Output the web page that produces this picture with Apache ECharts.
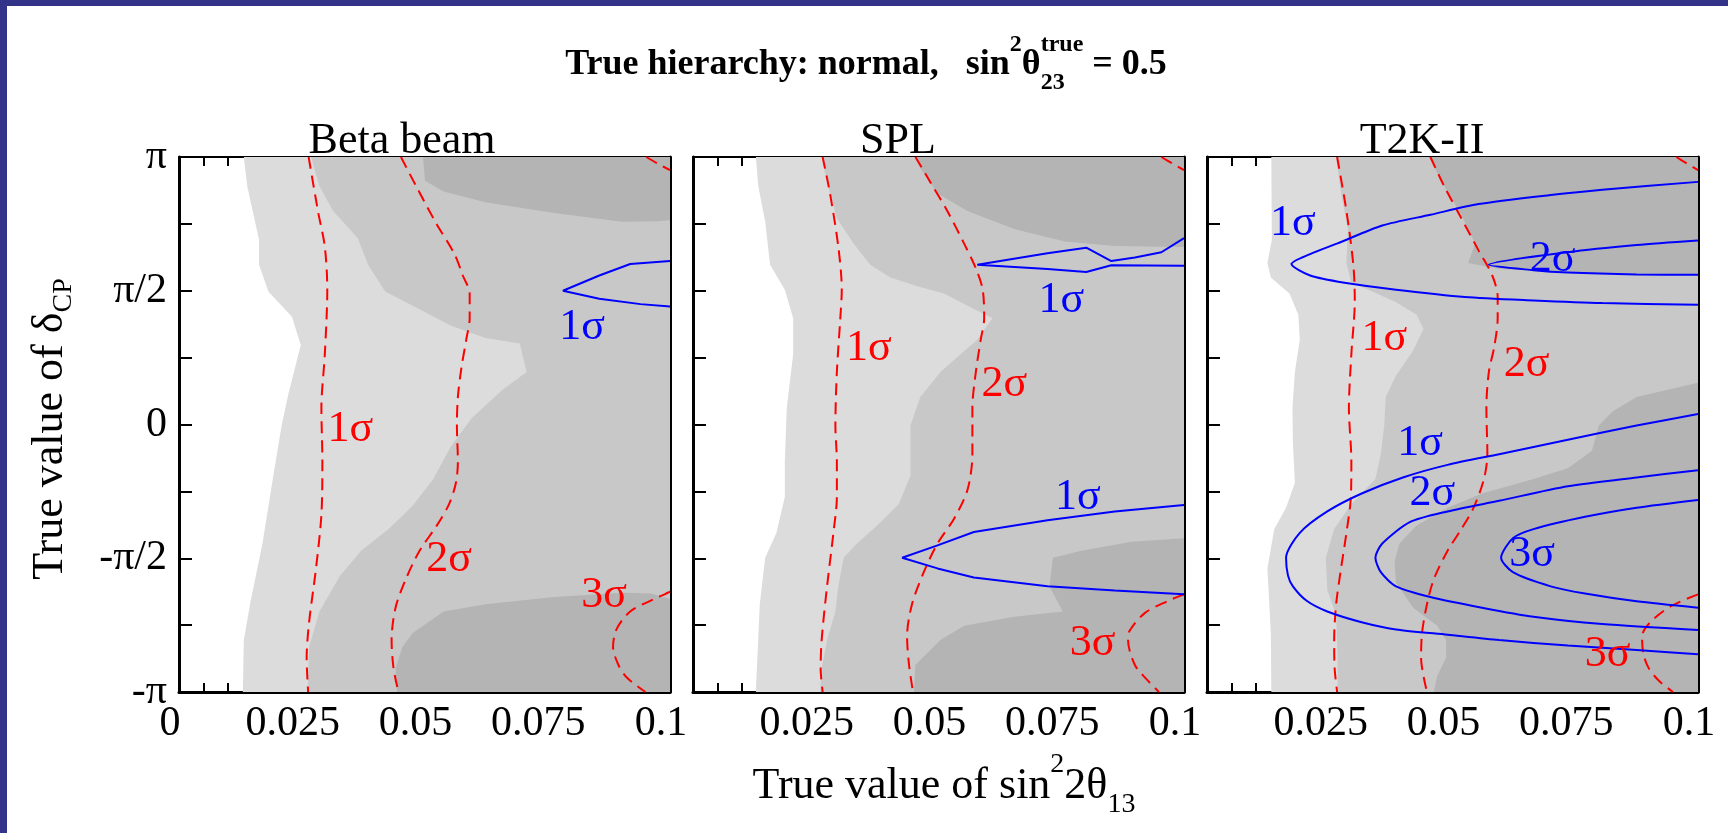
<!DOCTYPE html>
<html><head><meta charset="utf-8">
<script src="https://cdn.jsdelivr.net/npm/echarts@6/dist/echarts.min.js"></script>
<style>html,body{margin:0;padding:0;background:#fff}#c{width:1728px;height:833px}</style>
</head><body><div id="c"></div>
<script>
// ---------- DATA (x: sin^2 2θ13, y: δCP in units of π) ----------
const xTickLabels = ['0','0.025','0.05','0.075','0.1'];
const yTickLabels = ['-π','-π/2','0','π/2','π'];
const panelTitles = ['Beta beam','SPL','T2K-II'];

// Beta beam
const beta_white = [[0.0132,1],[0.0139,0.891],[0.0163,0.691],[0.0163,0.597],[0.0182,0.497],[0.0230,0.403],[0.0248,0.297],[0.0223,0.116],[0.0209,-0.004],[0.0191,-0.204],[0.0170,-0.445],[0.0146,-0.659],[0.0132,-0.806],[0.0130,-1]];
const beta_mid = [[0.0269,1],[0.0286,0.891],[0.0314,0.798],[0.0364,0.697],[0.0385,0.597],[0.0420,0.497],[0.0483,0.437],[0.0553,0.370],[0.0624,0.323],[0.0694,0.303],[0.0708,0.196],[0.0659,0.130],[0.0596,0.023],[0.0553,-0.084],[0.0518,-0.204],[0.0476,-0.304],[0.0427,-0.391],[0.0371,-0.472],[0.0328,-0.565],[0.0286,-0.699],[0.0265,-0.832],[0.0262,-1]];
const beta_darkTop = [[0.0497,1],[0.0501,0.911],[0.0539,0.871],[0.0624,0.831],[0.0764,0.791],[0.0902,0.758],[0.0975,0.760],[0.1,0.764],[0.1,1]];
const beta_darkBot = [[0.0444,-1],[0.0441,-0.912],[0.0455,-0.832],[0.0476,-0.779],[0.0539,-0.699],[0.0624,-0.672],[0.0764,-0.645],[0.0905,-0.629],[0.0961,-0.632],[0.1,-0.652],[0.1,-1]];
const beta_red1 = [[0.0264,1],[0.0283,0.798],[0.0297,0.664],[0.0302,0.504],[0.0297,0.263],[0.0290,0.063],[0.0292,-0.138],[0.0290,-0.338],[0.0279,-0.538],[0.0265,-0.739],[0.0260,-0.872],[0.0263,-1]];
const beta_red2 = [[0.0452,1],[0.0483,0.891],[0.0522,0.758],[0.0561,0.637],[0.0578,0.557],[0.0592,0.490],[0.0592,0.397],[0.0585,0.317],[0.0575,0.210],[0.0568,0.103],[0.0566,-0.004],[0.0568,-0.138],[0.0564,-0.218],[0.0550,-0.298],[0.0525,-0.378],[0.0490,-0.472],[0.0462,-0.578],[0.0441,-0.685],[0.0433,-0.806],[0.0437,-0.912],[0.0447,-1]];
const beta_red3 = [[0.1,-0.625],[0.0989,-0.635],[0.0968,-0.652],[0.0919,-0.699],[0.0891,-0.766],[0.0884,-0.832],[0.0895,-0.899],[0.0912,-0.946],[0.0950,-1]];
const beta_red3top = [[0.0952,1],[0.0975,0.975],[0.1,0.951]];
const beta_blue1 = [[0.1,0.611],[0.0919,0.600],[0.0856,0.557],[0.0782,0.500],[0.0856,0.470],[0.0940,0.450],[0.1,0.441]];
const beta_redLabels = [[0.0349,-0.017,'1σ'],[0.0550,-0.505,'2σ'],[0.0866,-0.639,'3σ']];
const beta_blueLabels = [[0.0821,0.363,'1σ']];

// SPL
const spl_white = [[0.0128,1],[0.0133,0.891],[0.0147,0.758],[0.0157,0.597],[0.0187,0.504],[0.0204,0.397],[0.0204,0.263],[0.0191,0.063],[0.0187,-0.138],[0.0187,-0.271],[0.0170,-0.405],[0.0147,-0.498],[0.0136,-0.672],[0.0128,-1]];
const spl_mid = [[0.0262,1],[0.0273,0.904],[0.0293,0.771],[0.0327,0.677],[0.0361,0.597],[0.0402,0.550],[0.0457,0.517],[0.0511,0.490],[0.0559,0.444],[0.0610,0.397],[0.0579,0.317],[0.0545,0.263],[0.0504,0.196],[0.0463,0.103],[0.0443,-0.004],[0.0443,-0.191],[0.0419,-0.298],[0.0375,-0.378],[0.0334,-0.445],[0.0307,-0.498],[0.0296,-0.605],[0.0290,-0.699],[0.0273,-0.806],[0.0262,-0.912],[0.0259,-1]];
const spl_darkTop = [[0.0453,1],[0.0463,0.958],[0.0498,0.864],[0.0559,0.798],[0.0654,0.731],[0.0757,0.684],[0.0859,0.667],[0.1,0.664],[0.1,1]];
const spl_darkBot = [[0.0450,-1],[0.0453,-0.899],[0.0504,-0.806],[0.0552,-0.752],[0.0654,-0.719],[0.0753,-0.699],[0.0726,-0.605],[0.0733,-0.498],[0.0791,-0.472],[0.0893,-0.438],[0.1,-0.425],[0.1,-1]];
const spl_red1 = [[0.0264,1],[0.0279,0.864],[0.0296,0.664],[0.0303,0.504],[0.0300,0.397],[0.0293,0.196],[0.0290,-0.004],[0.0293,-0.138],[0.0293,-0.271],[0.0286,-0.405],[0.0273,-0.605],[0.0262,-0.806],[0.0260,-0.912],[0.0264,-1]];
const spl_red2 = [[0.0453,1],[0.0484,0.904],[0.0518,0.798],[0.0552,0.677],[0.0576,0.584],[0.0590,0.504],[0.0593,0.397],[0.0586,0.317],[0.0576,0.196],[0.0569,0.063],[0.0569,-0.111],[0.0559,-0.245],[0.0532,-0.351],[0.0498,-0.445],[0.0470,-0.552],[0.0446,-0.672],[0.0436,-0.792],[0.0440,-0.899],[0.0448,-1]];
const spl_red3 = [[0.1,-0.635],[0.0968,-0.659],[0.0920,-0.705],[0.0889,-0.772],[0.0886,-0.806],[0.0900,-0.899],[0.0924,-0.953],[0.0949,-1]];
const spl_red3top = [[0.0954,1],[0.0977,0.975],[0.1,0.951]];
const spl_blue1a = [[0.1,0.697],[0.0954,0.644],[0.0900,0.624],[0.0852,0.611],[0.0801,0.661],[0.0722,0.640],[0.0579,0.597],[0.0722,0.581],[0.0801,0.570],[0.0852,0.595],[0.1,0.593]];
const spl_blue1b = [[0.1,-0.301],[0.0859,-0.325],[0.0722,-0.358],[0.0572,-0.402],[0.0498,-0.452],[0.0426,-0.498],[0.0498,-0.538],[0.0572,-0.572],[0.0722,-0.605],[0.0859,-0.621],[0.1,-0.635]];
const spl_redLabels = [[0.0358,0.283,'1σ'],[0.0634,0.150,'2σ'],[0.0814,-0.819,'3σ']];
const spl_blueLabels = [[0.0750,0.464,'1σ'],[0.0784,-0.271,'1σ']];

// T2K-II
const t2k_white = [[0.0131,1],[0.0132,0.691],[0.0123,0.604],[0.0130,0.550],[0.0168,0.490],[0.0186,0.410],[0.0189,0.317],[0.0179,0.196],[0.0174,0.063],[0.0175,-0.071],[0.0179,-0.218],[0.0161,-0.311],[0.0137,-0.391],[0.0123,-0.538],[0.0130,-0.779],[0.0131,-1]];
const t2k_mid = [[0.0263,1],[0.0273,0.864],[0.0287,0.731],[0.0284,0.604],[0.0294,0.530],[0.0329,0.504],[0.0385,0.457],[0.0427,0.410],[0.0441,0.357],[0.0420,0.277],[0.0385,0.183],[0.0364,0.103],[0.0361,-0.004],[0.0354,-0.111],[0.0343,-0.204],[0.0294,-0.298],[0.0259,-0.391],[0.0242,-0.498],[0.0245,-0.619],[0.0263,-0.712],[0.0266,-0.872],[0.0266,-1]];
const t2k_darkTop = [[0.0452,1],[0.0483,0.891],[0.0518,0.784],[0.0546,0.677],[0.0532,0.604],[0.0595,0.581],[0.0735,0.568],[0.0875,0.562],[0.1,0.560],[0.1,1]];
const t2k_darkBot = [[0.1,0.156],[0.0875,0.103],[0.0826,0.049],[0.0798,-0.004],[0.0784,-0.098],[0.0735,-0.164],[0.0665,-0.204],[0.0560,-0.258],[0.0490,-0.311],[0.0427,-0.378],[0.0392,-0.445],[0.0382,-0.512],[0.0385,-0.592],[0.0420,-0.685],[0.0469,-0.752],[0.0487,-0.806],[0.0487,-0.872],[0.0469,-0.939],[0.0462,-1],[0.1,-1]];
const t2k_red1 = [[0.0265,1],[0.0284,0.798],[0.0298,0.597],[0.0301,0.464],[0.0294,0.263],[0.0289,0.063],[0.0294,-0.138],[0.0293,-0.271],[0.0284,-0.405],[0.0273,-0.538],[0.0263,-0.672],[0.0259,-0.806],[0.0260,-0.912],[0.0265,-1]];
const t2k_red2 = [[0.0455,1],[0.0483,0.891],[0.0518,0.771],[0.0553,0.651],[0.0581,0.557],[0.0592,0.477],[0.0592,0.397],[0.0585,0.290],[0.0574,0.196],[0.0569,0.063],[0.0571,-0.111],[0.0564,-0.204],[0.0543,-0.311],[0.0518,-0.391],[0.0490,-0.472],[0.0462,-0.578],[0.0448,-0.672],[0.0438,-0.779],[0.0436,-0.872],[0.0448,-1]];
const t2k_red3 = [[0.1,-0.635],[0.0945,-0.679],[0.0903,-0.739],[0.0886,-0.792],[0.0889,-0.859],[0.0900,-0.912],[0.0921,-0.959],[0.0949,-1]];
const t2k_red3top = [[0.0956,1],[0.0978,0.975],[0.1,0.951]];
const t2k_blue1a = [[0.1,0.907],[0.0805,0.878],[0.0700,0.858],[0.0553,0.824],[0.0455,0.784],[0.0357,0.744],[0.0266,0.677],[0.0210,0.637],[0.0172,0.600],[0.0210,0.557],[0.0280,0.530],[0.0385,0.504],[0.0525,0.477],[0.0665,0.464],[0.0805,0.454],[0.1,0.448]];
const t2k_blue2a = [[0.1,0.688],[0.0875,0.671],[0.0735,0.644],[0.0574,0.597],[0.0665,0.577],[0.0735,0.568],[0.0875,0.561],[0.1,0.560]];
const t2k_blue1b = [[0.1,0.039],[0.0875,-0.004],[0.0735,-0.057],[0.0595,-0.111],[0.0490,-0.151],[0.0399,-0.198],[0.0315,-0.258],[0.0245,-0.325],[0.0189,-0.405],[0.0161,-0.498],[0.0165,-0.565],[0.0175,-0.605],[0.0203,-0.659],[0.0245,-0.699],[0.0315,-0.739],[0.0385,-0.766],[0.0490,-0.786],[0.0595,-0.806],[0.0735,-0.826],[0.0875,-0.843],[0.1,-0.859]];
const t2k_blue2b = [[0.1,-0.171],[0.0875,-0.198],[0.0735,-0.231],[0.0595,-0.285],[0.0490,-0.325],[0.0413,-0.365],[0.0357,-0.445],[0.0343,-0.498],[0.0354,-0.552],[0.0385,-0.605],[0.0455,-0.645],[0.0560,-0.685],[0.0665,-0.719],[0.0805,-0.746],[0.1,-0.768]];
const t2k_blue3b = [[0.1,-0.282],[0.0875,-0.311],[0.0770,-0.345],[0.0665,-0.391],[0.0623,-0.425],[0.0599,-0.498],[0.0623,-0.552],[0.0700,-0.605],[0.0770,-0.632],[0.0875,-0.661],[0.1,-0.685]];
const t2k_redLabels = [[0.0361,0.323,'1σ'],[0.0651,0.223,'2σ'],[0.0816,-0.859,'3σ']];
const t2k_blueLabels = [[0.0175,0.751,'1σ'],[0.0704,0.617,'2σ'],[0.0434,-0.071,'1σ'],[0.0459,-0.258,'2σ'],[0.0662,-0.485,'3σ']];

// ---------- CHART ----------
const X_MIN = 0, X_MAX = 0.1, Y_MIN = -1, Y_MAX = 1;
const panels = [
  {white: beta_white, mid: beta_mid, dark: [beta_darkTop, beta_darkBot], red: [beta_red1, beta_red2, beta_red3, beta_red3top], blue: [beta_blue1], redLabels: beta_redLabels, blueLabels: beta_blueLabels},
  {white: spl_white, mid: spl_mid, dark: [spl_darkTop, spl_darkBot], red: [spl_red1, spl_red2, spl_red3, spl_red3top], blue: [spl_blue1a, spl_blue1b], redLabels: spl_redLabels, blueLabels: spl_blueLabels},
  {white: t2k_white, mid: t2k_mid, dark: [t2k_darkTop, t2k_darkBot], red: [t2k_red1, t2k_red2, t2k_red3, t2k_red3top], blue: [t2k_blue1a, t2k_blue2a, t2k_blue1b, t2k_blue2b, t2k_blue3b], redLabels: t2k_redLabels, blueLabels: t2k_blueLabels}
];

const FONT = '"Liberation Serif", "Times New Roman", serif';
const C_LIGHT = '#dcdcdc', C_MID = '#c8c8c8', C_DARK = '#b4b4b4';
const RED = '#ff0000', BLUE = '#0000ff';
const GRID_LEFT = [179, 693, 1207], GRID_W = 491, GRID_TOP = 157, GRID_H = 535;

const grids = [], xAxes = [], yAxes = [], series = [];
const tickFont = 42;

panels.forEach((p, i) => {
  grids.push({left: GRID_LEFT[i], top: GRID_TOP, width: GRID_W, height: GRID_H, containLabel: false, outerBoundsMode: 'none'});
  const xCommon = {
    gridIndex: i, type: 'value', min: X_MIN, max: X_MAX, interval: 0.025,
    splitLine: {show: false},
    axisTick: {show: true, inside: true, length: 18, lineStyle: {color: '#000', width: 2}},
    minorTick: {show: true, splitNumber: 5, length: 9, lineStyle: {color: '#000', width: 2}},
    minorSplitLine: {show: false}
  };
  xAxes.push(Object.assign({}, xCommon, {
    position: 'bottom',
    axisLine: {show: true, onZero: false, lineStyle: {color: '#000', width: 3}},
    axisLabel: {show: true, margin: 11, color: '#000', fontFamily: FONT, fontSize: tickFont,
      showMinLabel: true, showMaxLabel: true, padding: [0, 18, 0, 0],
      formatter: v => { const k = Math.round(v / 0.025); if (k === 0 && i > 0) return ''; return xTickLabels[k]; }}
  }));
  xAxes.push(Object.assign({}, xCommon, {
    position: 'top',
    axisLine: {show: true, onZero: false, lineStyle: {color: '#000', width: 2}},
    axisLabel: {show: false}
  }));
  const yCommon = {
    gridIndex: i, type: 'value', min: Y_MIN, max: Y_MAX, interval: 0.5,
    splitLine: {show: false},
    axisTick: {show: true, inside: true, length: 13, lineStyle: {color: '#000', width: 2}},
    minorTick: {show: true, splitNumber: 2, length: 13, lineStyle: {color: '#000', width: 2}},
    minorSplitLine: {show: false}
  };
  yAxes.push(Object.assign({}, yCommon, {
    position: 'left',
    axisLine: {show: true, onZero: false, lineStyle: {color: '#000', width: 3}},
    axisLabel: {show: i === 0, margin: 12, color: '#000', fontFamily: FONT, fontSize: tickFont,
      showMinLabel: true, showMaxLabel: true,
      formatter: v => yTickLabels[Math.round((v - Y_MIN) / 0.5)]}
  }));
  yAxes.push(Object.assign({}, yCommon, {
    position: 'right',
    axisLine: {show: true, onZero: false, lineStyle: {color: '#000', width: 3}},
    axisLabel: {show: false}
  }));

  const xi = 2 * i, yi = 2 * i;
  const poly = (pts, color, z) => ({
    type: 'custom', xAxisIndex: xi, yAxisIndex: yi, silent: true, clip: true, z: z,
    data: [[0, 0]], encode: {x: 0, y: 1},
    renderItem: (params, api) => ({
      type: 'polygon',
      shape: {points: pts.map(q => api.coord(q))},
      style: {fill: color, stroke: null}
    })
  });
  series.push(poly(p.white.concat([[X_MAX, Y_MIN], [X_MAX, Y_MAX]]), C_LIGHT, 1));
  series.push(poly(p.mid.concat([[X_MAX, Y_MIN], [X_MAX, Y_MAX]]), C_MID, 1));
  p.dark.forEach(d => series.push(poly(d, C_DARK, 1)));
  p.red.forEach(r => series.push({
    type: 'line', xAxisIndex: xi, yAxisIndex: yi, data: r, showSymbol: false, symbol: 'none',
    smooth: 0.3, silent: true, z: 3, clip: true,
    lineStyle: {color: RED, width: 2, type: [12, 7]}
  }));
  p.blue.forEach(b => series.push({
    type: 'line', xAxisIndex: xi, yAxisIndex: yi, data: b, showSymbol: false, symbol: 'none',
    smooth: i === 2 ? 0.25 : false, silent: true, z: 3, clip: true,
    lineStyle: {color: BLUE, width: 2}
  }));
  const lab = (arr, color) => ({
    type: 'scatter', xAxisIndex: xi, yAxisIndex: yi, data: arr, symbolSize: 1,
    itemStyle: {color: 'rgba(0,0,0,0)'}, silent: true, z: 5,
    label: {show: true, position: 'inside', formatter: q => q.data[2], color: color, opacity: 1,
      fontFamily: FONT, fontSize: 44}
  });
  series.push(lab(p.redLabels, RED));
  series.push(lab(p.blueLabels, BLUE));
});

// ---------- text layout helpers (super/subscripts) ----------
const mctx = document.createElement('canvas').getContext('2d');
function fontStr(size, bold) { return (bold ? 'bold ' : '') + size + 'px ' + FONT; }
function measure(t, size, bold) { mctx.font = fontStr(size, bold); return mctx.measureText(t).width; }
function textEls(parts, cx, cy) {
  let total = 0;
  const ws = parts.map(p => {
    const w = p.stack ? Math.max(...p.stack.map(s => measure(s.t, s.size, s.bold))) : measure(p.t, p.size, p.bold);
    total += w; return w;
  });
  let x = cx - total / 2;
  const els = [];
  const mk = (s, x0) => ({type: 'text', x: x0, y: cy + (s.dy || 0), silent: true,
    style: {text: s.t, font: fontStr(s.size, s.bold), fill: '#000',
      align: 'left', textAlign: 'left', verticalAlign: 'middle', textVerticalAlign: 'middle'}});
  parts.forEach((p, k) => {
    if (p.stack) p.stack.forEach(s => els.push(mk(s, x)));
    else els.push(mk(p, x));
    x += ws[k];
  });
  return els;
}

const T = 36, TS = 24;
const titleParts = [
  {t: 'True hierarchy: normal,   sin', size: T, bold: true},
  {t: '2', size: TS, bold: true, dy: -20},
  {t: 'θ', size: T, bold: true},
  {stack: [{t: 'true', size: TS, bold: true, dy: -20}, {t: '23', size: TS, bold: true, dy: 18}]},
  {t: ' = 0.5', size: T, bold: true}
];
const L = 44, LS = 28;
const xNameParts = [
  {t: 'True value of sin', size: L},
  {t: '2', size: LS, dy: -21},
  {t: '2θ', size: L},
  {t: '13', size: LS, dy: 19}
];
const yNameParts = [
  {t: 'True value of δ', size: L},
  {t: 'CP', size: LS, dy: 14}
];

const graphic = [
  {type: 'rect', shape: {x: 0, y: 0, width: 1728, height: 6}, style: {fill: '#33338a'}, silent: true},
  {type: 'rect', shape: {x: 0, y: 0, width: 7, height: 833}, style: {fill: '#33338a'}, silent: true}
].concat(textEls(titleParts, 866, 65))
 .concat(textEls(xNameParts, 944, 786))
 .concat([{type: 'group', x: 50, y: 429, rotation: Math.PI / 2, children: textEls(yNameParts, 0, 0)}]);

const panelTitleX = [402, 898, 1422];
panelTitles.forEach((t, i) => graphic.push({type: 'text', x: panelTitleX[i], y: 141, silent: true,
  style: {text: t, font: fontStr(L, false), fill: '#000', align: 'center', textAlign: 'center',
    verticalAlign: 'middle', textVerticalAlign: 'middle'}}));

const chart = echarts.init(document.getElementById('c'), null, {renderer: 'canvas'});
chart.setOption({
  animation: false,
  backgroundColor: '#fff',
  grid: grids, xAxis: xAxes, yAxis: yAxes, series: series, graphic: graphic
});
</script></body></html>
